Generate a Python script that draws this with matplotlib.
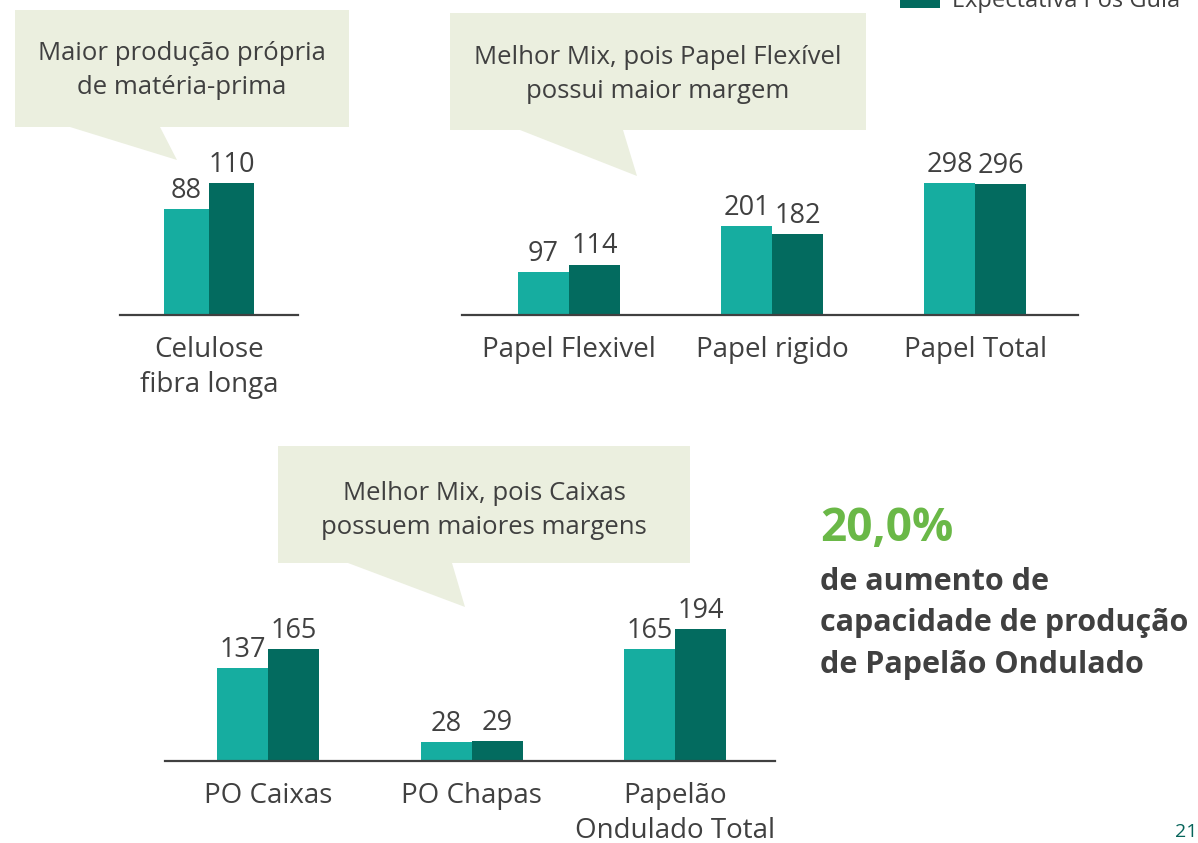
import matplotlib.pyplot as plt
from matplotlib.patches import Polygon, Rectangle
import numpy as np

plt.rcParams['font.family'] = ['Open Sans', 'DejaVu Sans']

# Capacity data (mil t/ano): current vs. expected after the expansion
cel_labels = ['Celulose\nfibra longa']
cel_atual = [88]
cel_pos = [110]

papel_labels = ['Papel Flexivel', 'Papel rigido', 'Papel Total']
papel_atual = [97, 201, 298]
papel_pos = [114, 182, 296]

po_labels = ['PO Caixas', 'PO Chapas', 'Papelão\nOndulado Total']
po_atual = [137, 28, 165]
po_pos = [165, 29, 194]

legend_label = 'Expectativa Pós Guia'
destaque = '20,0%'
destaque_txt = ['de aumento de', 'capacidade de produção', 'de Papelão Ondulado']

TEAL = '#16ADA0'
DARK = '#036B5F'
GREY = '#404040'
BOX = '#EBEFDF'

W, H = 1198, 843
fig = plt.figure(figsize=(W / 100, H / 100), dpi=100)

# background layer in pixel coordinates for callouts and free text
bg = fig.add_axes([0, 0, 1, 1])
bg.set_xlim(0, W)
bg.set_ylim(H, 0)
bg.axis('off')


def callout(x0, y0, x1, y1, tl, tr, tip, lines, baselines):
    pts = [(x0, y0), (x1, y0), (x1, y1), (tr, y1), tip, (tl, y1), (x0, y1)]
    bg.add_patch(Polygon(pts, closed=True, facecolor=BOX, edgecolor='none'))
    cx = (x0 + x1) / 2
    for txt, yb in zip(lines, baselines):
        bg.text(cx, yb, txt, ha='center', va='baseline', fontsize=18.5, color=GREY)


callout(15, 10, 349, 127, 70, 160, (177, 160),
        ['Maior produção própria', 'de matéria-prima'], [60, 94])
callout(450, 13, 866, 130, 520, 623, (637, 176),
        ['Melhor Mix, pois Papel Flexível', 'possui maior margem'], [64, 98])
callout(278, 446, 690, 563, 348, 452, (465, 607),
        ['Melhor Mix, pois Caixas', 'possuem maiores margens'], [500, 534])

# legend entry, cut off at the top of the page
bg.add_patch(Rectangle((900, -20), 40, 28, facecolor=DARK, edgecolor='none'))
bg.text(952, 7, legend_label, ha='left', va='baseline', fontsize=17, color=GREY)

# highlight text on the right
bg.text(820, 541, destaque, ha='left', va='baseline', fontsize=33,
        fontweight='bold', color='#6AB847')
for i, t in enumerate(destaque_txt):
    bg.text(820, 590 + 41.5 * i, t, ha='left', va='baseline', fontsize=22,
            fontweight='bold', color=GREY)

bg.text(1197, 837, '21', ha='right', va='baseline', fontsize=14, color='#06645A')

AX_H = 150      # axes height in px
BAR_PX = 132    # height in px of the tallest bar of each chart
BW = 0.25


def bar_chart(x0, x1, y_base, xlim, labels, atual, pos):
    ax = fig.add_axes([x0 / W, (H - y_base) / H, (x1 - x0) / W, AX_H / H])
    ax.patch.set_alpha(0)
    x = np.arange(len(labels))
    top = max(max(atual), max(pos))
    ax.set_ylim(0, top * AX_H / BAR_PX)
    ax.set_xlim(*xlim)
    ax.bar(x - BW / 2, atual, BW, color=TEAL, zorder=2)
    ax.bar(x + BW / 2, pos, BW, color=DARK, zorder=2)
    for xi, a, p in zip(x, atual, pos):
        ax.annotate(str(a), (xi - BW / 2, a), xytext=(0, 8), textcoords='offset points',
                    ha='center', va='baseline', fontsize=19.5, color=GREY)
        ax.annotate(str(p), (xi + BW / 2, p), xytext=(0, 8), textcoords='offset points',
                    ha='center', va='baseline', fontsize=19.5, color=GREY)
    for s in ['top', 'left', 'right']:
        ax.spines[s].set_visible(False)
    ax.spines['bottom'].set_color(GREY)
    ax.spines['bottom'].set_linewidth(1.6)
    ax.set_yticks([])
    ax.set_xticks(x)
    ax.set_xticklabels(labels, fontsize=20, color=GREY, linespacing=1.33)
    ax.tick_params(axis='x', length=0, pad=15)
    return ax


bar_chart(120, 298, 315, (-0.49, 0.49), cel_labels, cel_atual, cel_pos)
bar_chart(462, 1078, 315, (-0.527, 2.507), papel_labels, papel_atual, papel_pos)
bar_chart(165, 775, 761, (-0.506, 2.49), po_labels, po_atual, po_pos)

fig.savefig('out.png', dpi=100)
